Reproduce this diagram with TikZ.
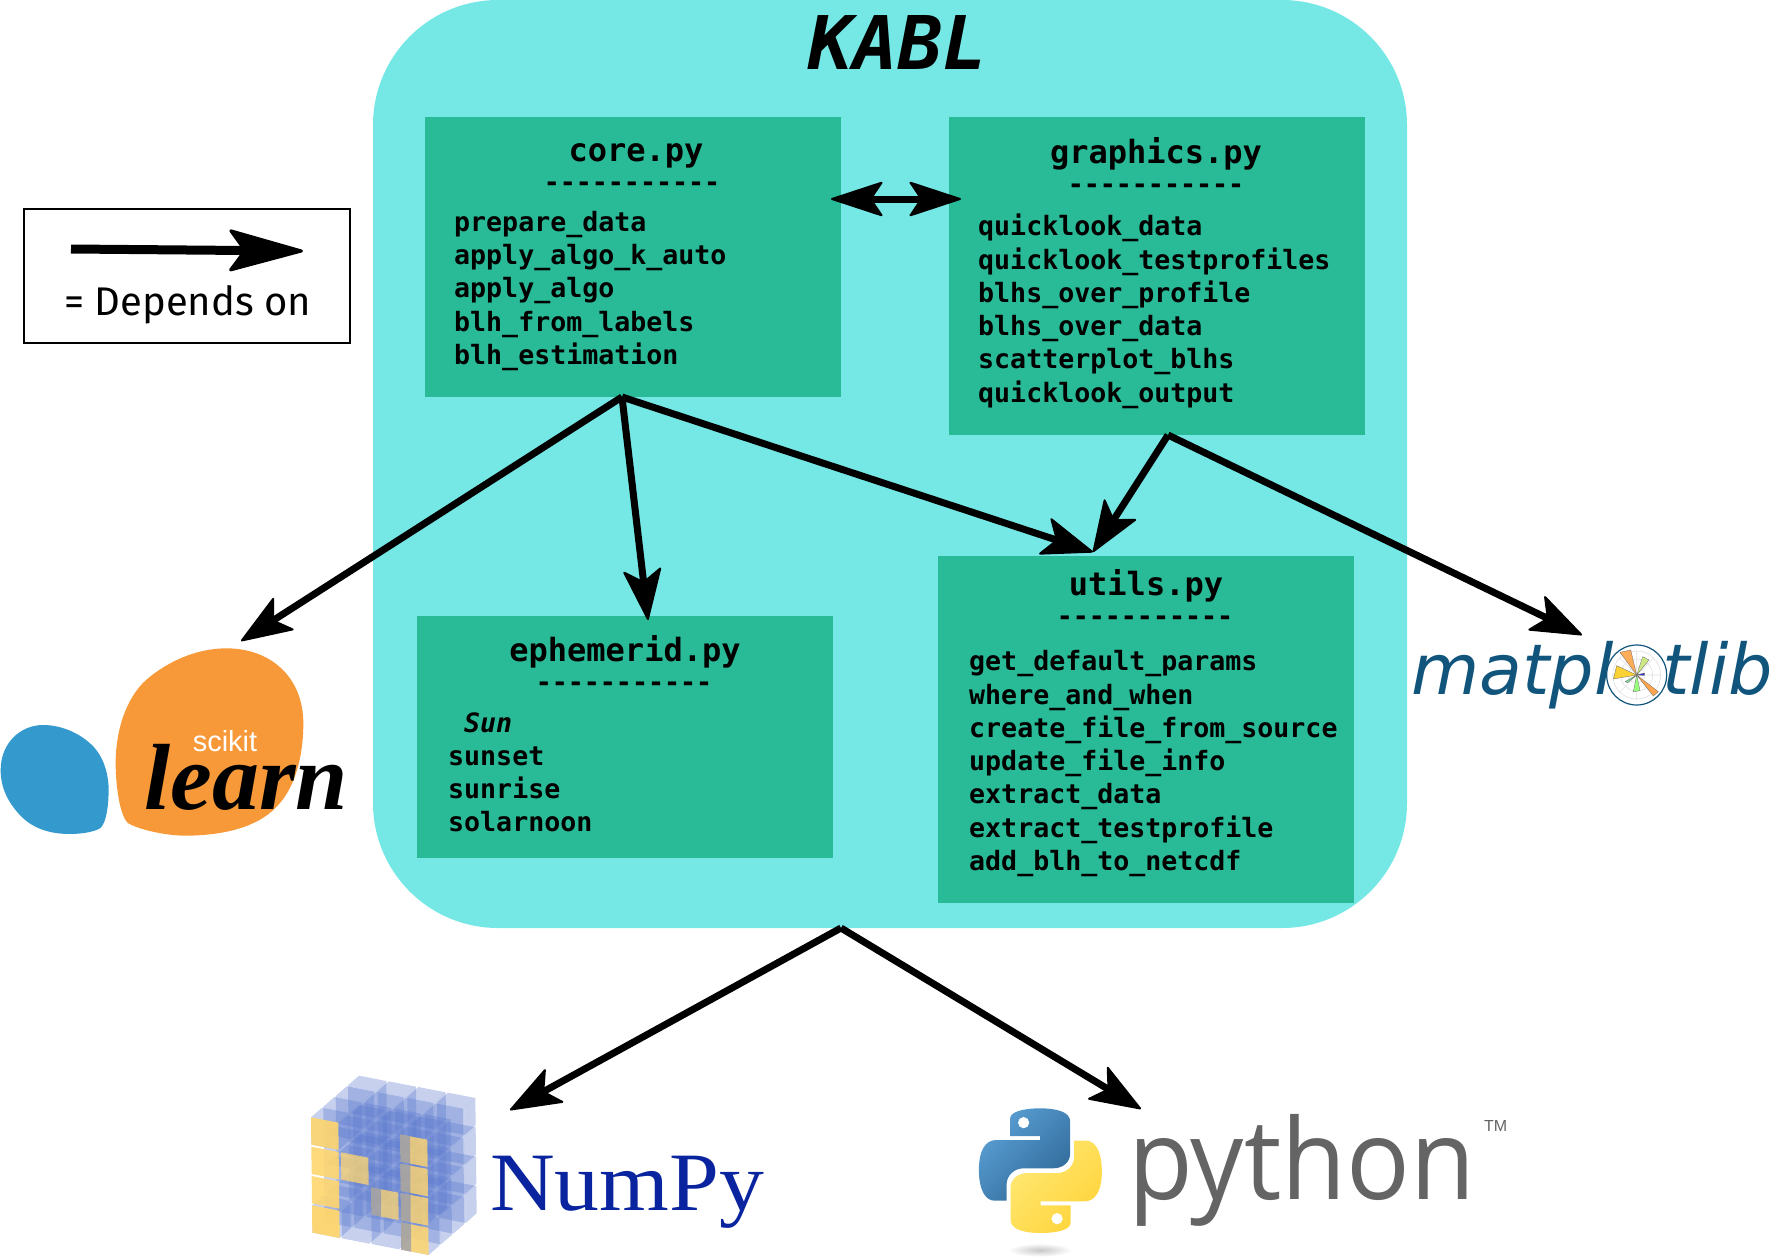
\documentclass[tikz,border=0pt]{standalone}
\usepackage{fontspec}
\setmonofont{DejaVu Sans Mono}
\newfontfamily\djv{DejaVu Sans}
\newfontfamily\lserif{Liberation Serif}
\newfontfamily\lsans{Liberation Sans}
\newfontfamily\fira{Fira Sans}
\newfontfamily\opens{Open Sans}
\usetikzlibrary{arrows.meta,shapes.geometric}
\definecolor{cyanbg}{HTML}{75E8E6}
\definecolor{modgreen}{HTML}{29BB97}
\definecolor{skorange}{HTML}{F89939}
\definecolor{skblue}{HTML}{3499CD}
\definecolor{npblue}{HTML}{0A249F}
\definecolor{npcube}{HTML}{5A78CD}
\definecolor{npyellow}{HTML}{FFD66E}
\definecolor{pygray}{HTML}{646464}
\definecolor{mplblue}{HTML}{11557C}
\definecolor{pyblueL}{HTML}{5A9FD4}
\definecolor{pyblueD}{HTML}{306998}
\definecolor{pyyelL}{HTML}{FFE873}
\definecolor{pyyelD}{HTML}{FFD43B}
\newcommand{\flr}{\rule{0pt}{25pt}}
\newcommand{\npcubecell}[3]{%
  \pgfmathsetmacro\cx{63+89*#1+1*#2+37*#3}%
  \pgfmathsetmacro\cy{172+17*#1+88*#2-32*#3}%
  \fill[npcube,fill opacity=.34] (\cx,\cy) -- ++(82,16) -- ++(1,82) -- ++(-82,-16) -- cycle;
  \fill[npcube,fill opacity=.34] (\cx,\cy) -- ++(33,-29) -- ++(82,16) -- ++(-33,29) -- cycle;
  \fill[npcube,fill opacity=.34] (\cx+82,\cy+16) -- ++(33,-29) -- ++(1,82) -- ++(-33,29) -- cycle;
}
\newcommand{\npyellowcell}[3]{%
  \pgfmathsetmacro\cx{63+89*#1+1*#2}%
  \pgfmathsetmacro\cy{172+17*#1+88*#2}%
  \fill[npyellow,fill opacity=#3] (\cx,\cy) -- ++(82,16) -- ++(1,82) -- ++(-82,-16) -- cycle;
}
\newcommand{\npstrip}[2]{%
  \pgfmathsetmacro\cx{63+89*#1+1*#2}%
  \pgfmathsetmacro\cy{172+17*#1+88*#2}%
  \fill[npcube,fill opacity=.45] (\cx,\cy) -- ++(30,6) -- ++(0,82) -- ++(-30,-6) -- cycle;
}
\tikzset{
  modbox/.style={fill=modgreen,draw=none,inner sep=0pt},
  modtitle/.style={font=\ttfamily\bfseries\fontsize{32}{36}\selectfont,anchor=base,inner sep=0pt},
  moddash/.style={font=\ttfamily\bfseries\fontsize{26.6}{30}\selectfont,anchor=base,inner sep=0pt},
  modlist/.style={font=\ttfamily\bfseries\fontsize{26.6}{33.3}\selectfont,anchor=north west,align=left,inner sep=0pt},
  dep/.style={line width=7pt,-{Stealth[length=54pt,width=40pt,inset=13pt,round,line width=2pt]}},
}
\begin{document}
\begin{tikzpicture}[x=1pt,y=-1pt]
\useasboundingbox (0,0) rectangle (1788,1258);
% main body
\node[fill=cyanbg,rounded corners=125pt,minimum width=1034pt,minimum height=928pt,inner sep=0pt] (kablbox) at (890,464) {};
\node[font=\ttfamily\bfseries\itshape\fontsize{74}{80}\selectfont,anchor=base,inner sep=0pt] (kabl) at (898,69) {KABL};
% modules
\node[modbox,minimum width=416pt,minimum height=280pt] (corebox) at (633,257) {};
\node[modbox,minimum width=416pt,minimum height=318pt] (graphbox) at (1156.5,276) {};
\node[modbox,minimum width=416pt,minimum height=242pt] (ephbox) at (625,737) {};
\node[modbox,minimum width=416pt,minimum height=347pt] (utilsbox) at (1146,729.5) {};
% core
\node[modtitle] (coret) at (636,161) {core.py};
\node[moddash] (cored) at (632,191) {-----------};
\node[modlist] (corel) at (454,206) {\flr prepare\_data\\apply\_algo\_k\_auto\\apply\_algo\\blh\_from\_labels\\blh\_estimation};
% graphics
\node[modtitle] (grapht) at (1156,163) {graphics.py};
\node[moddash] (graphd) at (1156,193) {-----------};
\node[modlist] (graphl) at (978,210.5) {\flr quicklook\_data\\quicklook\_testprofiles\\blhs\_over\_profile\\blhs\_over\_data\\scatterplot\_blhs\\quicklook\_output};
% ephemerid
\node[modtitle] (epht) at (625,661) {ephemerid.py};
\node[moddash] (ephd) at (624,691) {-----------};
\node[modlist,font=\ttfamily\bfseries\itshape\fontsize{26.6}{33.3}\selectfont] (sun) at (464,707) {\flr Sun};
\node[modlist] (ephl) at (448,740) {\flr sunset\\sunrise\\solarnoon};
% utils
\node[modtitle] (utilst) at (1146,595) {utils.py};
\node[moddash] (utilsd) at (1145,625) {-----------};
\node[modlist] (utilsl) at (969,645.5) {\flr get\_default\_params\\where\_and\_when\\create\_file\_from\_source\\update\_file\_info\\extract\_data\\extract\_testprofile\\add\_blh\_to\_netcdf};
% legend
\node[draw=black,line width=2pt,minimum width=326pt,minimum height=134pt,inner sep=0pt] (legend) at (187,276) {};
\coordinate (legA) at (71,249);
\coordinate (legB) at (303,251);
\draw[line width=9pt,-{Stealth[length=80pt,width=44pt,inset=16pt,round,line width=3pt]}] (legA) -- (legB);
\node[font=\fira\fontsize{40}{44}\selectfont,anchor=base west,inner sep=0pt] (legt) at (64,315) {= Depends on};
% scikit-learn logo
\begin{scope}[shift={(0,620)},x=0.33333pt,y=-0.33333pt]
\fill[skblue] (130,315) .. controls (190,315) and (250,345) .. (285,385) .. controls (315,420) and (326,470) .. (326,510) .. controls (326,550) and (320,610) .. (300,625) .. controls (280,637) and (240,642) .. (210,642) .. controls (140,642) and (90,620) .. (55,580) .. controls (20,540) and (2,500) .. (2,450) .. controls (2,370) and (60,315) .. (130,315) -- cycle;
\fill[skorange] (680,85) .. controls (810,85) and (910,170) .. (910,310) .. controls (910,420) and (880,510) .. (830,560) .. controls (770,625) and (660,647) .. (555,647) .. controls (500,647) and (420,630) .. (385,610) .. controls (360,590) and (347,500) .. (347,430) .. controls (347,320) and (385,220) .. (450,170) .. controls (520,115) and (600,85) .. (680,85) -- cycle;
\end{scope}
\node[font=\lsans\fontsize{29}{32}\selectfont,text=white,anchor=base,inner sep=0pt] (scikit) at (225,751) {scikit};
\node[font=\lserif\bfseries\itshape\fontsize{94}{100}\selectfont,anchor=base west,inner sep=0pt] (learn) at (144,809) {learn};
\coordinate (sklearn) at (241,641);
% matplotlib logo
\node[font=\djv\itshape\fontsize{70}{76}\selectfont,text=mplblue,anchor=base west,inner sep=0pt] (matpl) at (1411,694) {matpl};
\node[font=\djv\itshape\fontsize{70}{76}\selectfont,text=mplblue,anchor=base west,inner sep=0pt] (tlib) at (1662,694) {tlib};
\begin{scope}[shift={(1400,610)},x=0.33333pt,y=-0.33333pt]
\fill[white] (710,195) circle[radius=30pt];
\draw[mplblue,line width=1.2pt] (710,195) circle[radius=30pt];
\draw[black!12,line width=.6pt] (710,195) circle[radius=24pt] (710,195) circle[radius=16pt] (710,195) circle[radius=8pt];
\draw[black!12,line width=.6pt] (710,122) -- (710,268) (637,195) -- (783,195) (658,143) -- (762,247) (658,247) -- (762,143);
\tikzset{wedge/.style={draw=black!60,line width=.3pt}}
\filldraw[wedge,fill=orange!65!white] (710,195) -- (660,127) -- (692,120) -- cycle;
\filldraw[wedge,fill=yellow!60!green!50!white] (710,195) -- (728,140) -- (747,150) -- cycle;
\filldraw[wedge,fill=blue!60!gray] (710,195) -- (733,189) -- (733,196) -- cycle;
\filldraw[wedge,fill=orange!70!white] (710,195) -- (775,245) -- (760,258) -- cycle;
\filldraw[wedge,fill=green!45!white!90!yellow] (710,195) -- (700,245) -- (720,242) -- cycle;
\filldraw[wedge,fill=teal!50!green!50!white] (710,195) -- (675,215) -- (683,218) -- cycle;
\filldraw[wedge,fill=yellow!60!orange!80!white] (710,195) -- (650,167) -- (640,207) -- cycle;
\end{scope}
\coordinate (mpl) at (1582,635);
% numpy logo
\begin{scope}[shift={(290,1060)},x=0.33333pt,y=-0.33333pt]
\foreach \d in {3,2,1}{\foreach \r in {0,...,3}{\foreach \c in {0,...,3}{\npcubecell{\c}{\r}{\d}}}}
\npcubecell{1}{3}{0}
\npcubecell{2}{3}{0}
\npcubecell{0}{0}{0}
\npcubecell{0}{3}{0}
\npcubecell{3}{3}{0}
\npyellowcell{0}{0}{.9}
\npyellowcell{0}{1}{.9}
\npyellowcell{0}{2}{.9}
\npyellowcell{0}{3}{.95}
\npyellowcell{1}{1}{.75}
\npyellowcell{2}{2}{.75}
\npyellowcell{3}{0}{.8}
\npyellowcell{3}{1}{.8}
\npyellowcell{3}{2}{.8}
\npyellowcell{3}{3}{.85}
\npstrip{3}{0}
\npstrip{3}{1}
\npstrip{3}{2}
\npstrip{3}{3}
\npstrip{2}{2}
\end{scope}
\node[font=\lserif\fontsize{83}{92}\selectfont,text=npblue,anchor=base west,inner sep=0pt] (numpyt) at (490,1210) {\scalebox{1.08}[1]{NumPy}};
\coordinate (numpy) at (510,1110);
% python logo
\begin{scope}[shift={(960,1090)},x=0.36364pt,y=-0.33333pt]
\shade[inner color=black!22,outer color=white] (220,480) ellipse[x radius=88,y radius=20];
\shade[top color=pyblueL,bottom color=pyblueD,shading angle=45] (138,138) -- (138,85) .. controls (138,65) and (175,55) .. (220,55) .. controls (265,55) and (303,65) .. (303,95) -- (303,190) .. controls (303,215) and (285,235) .. (255,235) -- (175,235) .. controls (150,235) and (128,255) .. (128,285) -- (128,332) -- (95,332) .. controls (70,332) and (52,300) .. (52,240) .. controls (52,180) and (70,150) .. (100,150) -- (220,150) -- (220,138) -- cycle;
\shade[top color=pyyelL,bottom color=pyyelD,shading angle=45] (304,346) -- (304,399) .. controls (304,419) and (267,429) .. (222,429) .. controls (177,429) and (139,419) .. (139,389) -- (139,294) .. controls (139,269) and (157,249) .. (187,249) -- (267,249) .. controls (292,249) and (314,229) .. (314,199) -- (314,152) -- (347,152) .. controls (372,152) and (390,184) .. (390,244) .. controls (390,304) and (372,334) .. (342,334) -- (222,334) -- (222,346) -- cycle;
\fill[white] (175,98) circle[radius=5.6pt] (267,386) circle[radius=5.6pt];
\end{scope}
\node[font=\opens\fontsize{112}{120}\selectfont,text=pygray,anchor=base west,inner sep=0pt] (pythont) at (1128,1199) {\scalebox{0.945}[1]{python}};
\node[font=\lsans\fontsize{16}{18}\selectfont,text=pygray,anchor=base west,inner sep=0pt] (tm) at (1484,1131) {TM};
\coordinate (pythonlogo) at (1141,1109);
% connector ends
\coordinate (coreout) at (622,397);
\coordinate (graphout) at (1168,435);
\coordinate (ephin) at (648,620);
\coordinate (utilsin) at (1093,552);
\coordinate (bodyout) at (841,928);
\coordinate (bidirL) at (831,199);
\coordinate (bidirR) at (961,199);
\draw[dep] (coreout) -- (sklearn);
\draw[dep] (coreout) -- (ephin);
\draw[dep] (coreout) -- (utilsin);
\draw[dep] (graphout) -- (utilsin);
\draw[dep] (graphout) -- (mpl);
\draw[dep] (bodyout) -- (numpy);
\draw[dep] (bodyout) -- (pythonlogo);
\draw[line width=7pt,{Stealth[length=55pt,width=36pt,inset=12pt,round,line width=2pt]}-{Stealth[length=55pt,width=36pt,inset=12pt,round,line width=2pt]}] (bidirL) -- (bidirR);
\end{tikzpicture}
\end{document}
